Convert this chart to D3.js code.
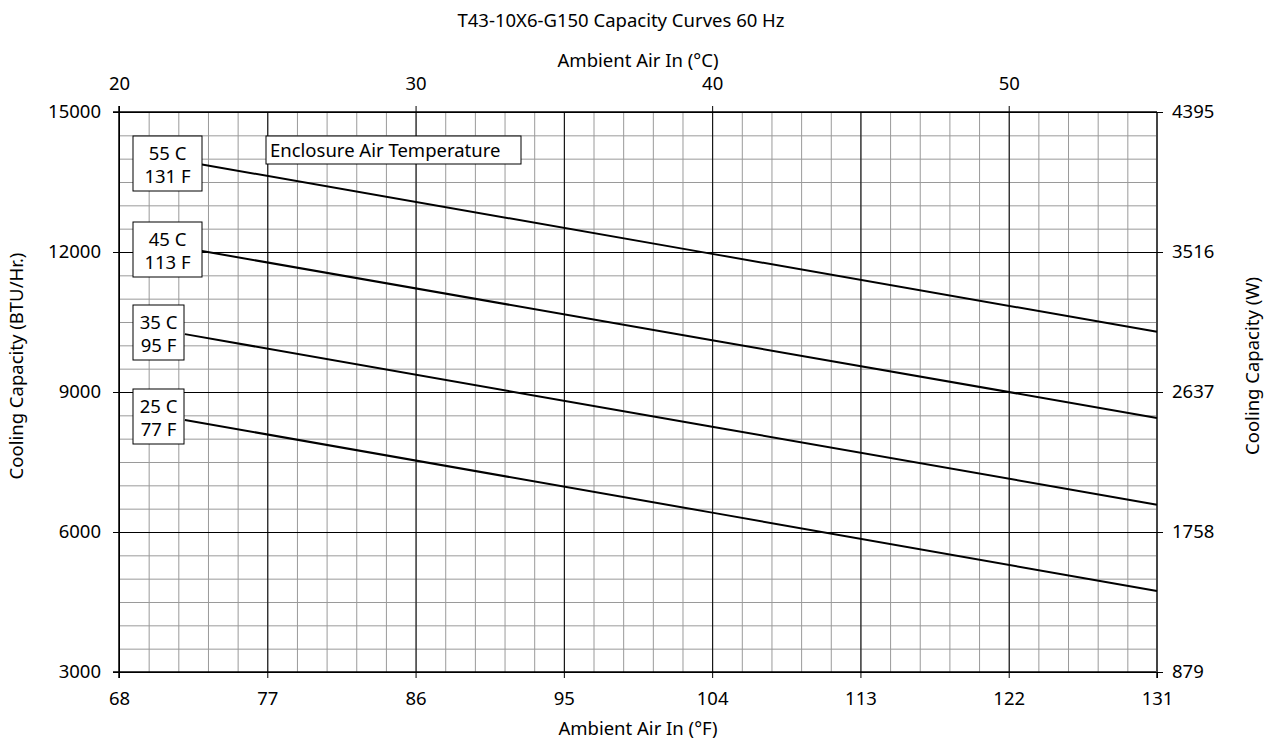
<!DOCTYPE html>
<html lang="en">
<head>
    <meta charset="UTF-8">
    <title>T43-10X6-G150 Capacity Curves 60 Hz</title>
    <script src="https://d3js.org/d3.v7.min.js"></script>
    <style>
        body {
            margin: 0;
            background: #fff;
            font-family: "Noto Sans", Arial, sans-serif;
        }
        text {
            font-family: "Noto Sans", Arial, sans-serif;
            fill: #000;
        }
        .minor line { stroke: #9a9a9a; stroke-width: 1; }
        .major line { stroke: #000; stroke-width: 1; }
        .axis path { display: none; }
        .axis line { stroke: #000; }
        .axis text { font-size: 18.5px; }
    </style>
</head>
<body>
<div id="chart"></div>
<script>
    // data
    const tempsF = [72, 104, 131];
    const series55 = [13940, 11960, 10290];
    const series45 = [12085, 10110, 8445];
    const series35 = [10240, 8255, 6585];
    const series25 = [8400, 6415, 4735];
    const seriesLabels = [["55 C", "131 F"], ["45 C", "113 F"], ["35 C", "95 F"], ["25 C", "77 F"]];
    const btuTicks = [3000, 6000, 9000, 12000, 15000];
    const wattTicks = [879, 1758, 2637, 3516, 4395];
    const fTicks = [68, 77, 86, 95, 104, 113, 122, 131];
    const cTicks = [20, 30, 40, 50];

    const W = 1273, H = 740;
    const margin = { top: 112, right: 116, bottom: 68, left: 119 };
    const width = W - margin.left - margin.right;
    const height = H - margin.top - margin.bottom;
    const fs = 18.5;

    const svg = d3.select("#chart").append("svg")
        .attr("width", W)
        .attr("height", H);

    const g = svg.append("g")
        .attr("transform", `translate(${margin.left},${margin.top})`);

    const x = d3.scaleLinear().domain([68, 131]).range([0, width]);
    const xC = d3.scaleLinear().domain([20, 55]).range([0, width]);
    const y = d3.scaleLinear().domain([3000, 15000]).range([height, 0]);
    const yW = d3.scaleLinear().domain([879, 4395]).range([height, 0]);

    // minor grid: 1 °C and 500 BTU
    g.append("g").attr("class", "minor")
        .call(d3.axisBottom(xC).tickValues(d3.range(21, 55, 1)).tickSize(height).tickFormat(""));
    g.append("g").attr("class", "minor")
        .call(d3.axisLeft(y).tickValues(d3.range(3500, 15000, 500)).tickSize(-width).tickFormat(""));

    // major grid
    g.append("g").attr("class", "major")
        .call(d3.axisBottom(x).tickValues(fTicks.slice(1, -1)).tickSize(height).tickFormat(""));
    g.append("g").attr("class", "major")
        .call(d3.axisLeft(y).tickValues(btuTicks.slice(1, -1)).tickSize(-width).tickFormat(""));

    // frame
    g.append("line").attr("x1", -6).attr("x2", width).attr("y1", 0).attr("y2", 0).attr("stroke", "#000").attr("stroke-width", 1.5);
    g.append("line").attr("x1", -6).attr("x2", width).attr("y1", height).attr("y2", height).attr("stroke", "#000").attr("stroke-width", 1.5);
    g.append("line").attr("x1", 0).attr("x2", 0).attr("y1", -6).attr("y2", height + 6).attr("stroke", "#000").attr("stroke-width", 1.5);
    g.append("line").attr("x1", width).attr("x2", width).attr("y1", 0).attr("y2", height + 6).attr("stroke", "#444").attr("stroke-width", 2);

    // axes
    g.append("g").attr("class", "axis")
        .attr("transform", `translate(0,${height})`)
        .call(d3.axisBottom(x).tickValues(fTicks).tickSize(6).tickPadding(14));
    g.append("g").attr("class", "axis")
        .call(d3.axisTop(xC).tickValues(cTicks).tickSize(6).tickPadding(16));
    g.append("g").attr("class", "axis")
        .call(d3.axisLeft(y).tickValues(btuTicks).tickSize(6).tickPadding(12).tickFormat(d3.format("d")));
    const rightAxis = g.append("g").attr("class", "axis")
        .attr("transform", `translate(${width},0)`)
        .call(d3.axisRight(yW).tickValues(wattTicks).tickSize(6).tickPadding(9).tickFormat(d3.format("d")));
    rightAxis.selectAll(".tick line").attr("x1", -6);

    // curves
    const line = d3.line().x(d => x(d[0])).y(d => y(d[1]));
    const allSeries = [series55, series45, series35, series25];
    g.selectAll(".curve")
        .data(allSeries)
        .enter()
        .append("path")
        .attr("class", "curve")
        .attr("fill", "none")
        .attr("stroke", "#000")
        .attr("stroke-width", 2)
        .attr("d", s => line(tempsF.map((t, i) => [t, s[i]])));

    // series label boxes
    const boxW = [69, 69, 51, 51];
    const boxTop = [24, 110, 193, 277];
    const boxes = g.selectAll(".lbl")
        .data(seriesLabels)
        .enter()
        .append("g")
        .attr("class", "lbl")
        .attr("transform", (d, i) => `translate(14,${boxTop[i]})`);
    boxes.append("rect")
        .attr("width", (d, i) => boxW[i])
        .attr("height", 55)
        .attr("fill", "#fff")
        .attr("stroke", "#000")
        .attr("stroke-width", 1);
    boxes.append("text")
        .attr("x", (d, i) => boxW[i] / 2)
        .attr("y", 24)
        .attr("text-anchor", "middle")
        .attr("font-size", fs)
        .text(d => d[0]);
    boxes.append("text")
        .attr("x", (d, i) => boxW[i] / 2)
        .attr("y", 47)
        .attr("text-anchor", "middle")
        .attr("font-size", fs)
        .text(d => d[1]);

    // legend title box
    const enc = g.append("g").attr("transform", "translate(147,24)");
    enc.append("rect").attr("width", 255).attr("height", 28)
        .attr("fill", "#fff").attr("stroke", "#000");
    enc.append("text").attr("x", 4).attr("y", 20.5).attr("font-size", fs)
        .text("Enclosure Air Temperature");

    // titles
    svg.append("text").attr("x", 621).attr("y", 27).attr("text-anchor", "middle")
        .attr("font-size", fs).text("T43-10X6-G150 Capacity Curves 60 Hz");
    svg.append("text").attr("x", 638).attr("y", 67).attr("text-anchor", "middle")
        .attr("font-size", fs).text("Ambient Air In (°C)");
    svg.append("text").attr("x", 638).attr("y", 735).attr("text-anchor", "middle")
        .attr("font-size", fs).text("Ambient Air In (°F)");
    svg.append("text").attr("transform", "translate(23,366) rotate(-90)")
        .attr("text-anchor", "middle").attr("font-size", fs).text("Cooling Capacity (BTU/Hr.)");
    svg.append("text").attr("transform", "translate(1259,366) rotate(-90)")
        .attr("text-anchor", "middle").attr("font-size", fs).text("Cooling Capacity (W)");
</script>
</body>
</html>
